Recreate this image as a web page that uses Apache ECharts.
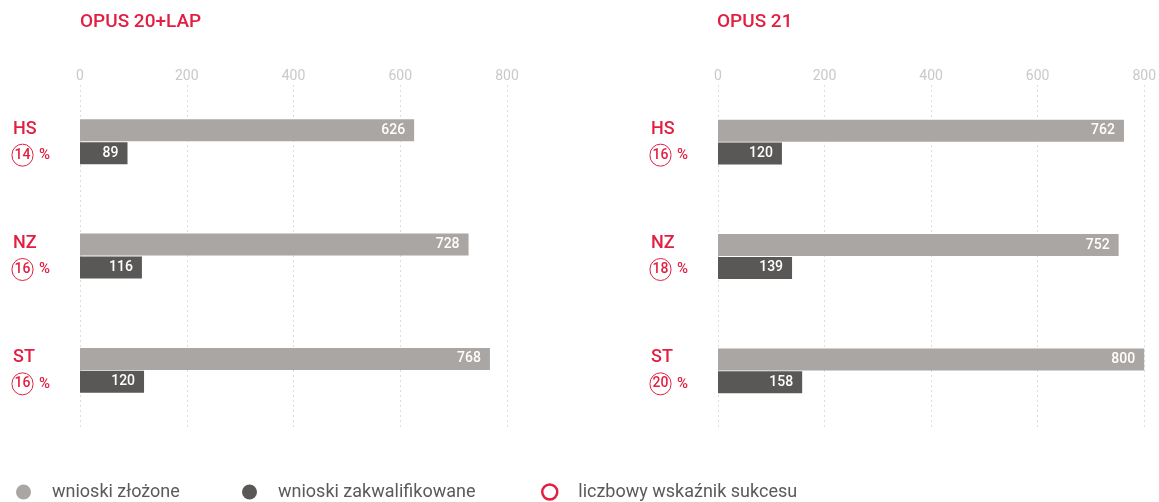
<!DOCTYPE html>
<html>
<head>
<meta charset="utf-8">
<script src="https://cdn.jsdelivr.net/npm/echarts@6/dist/echarts.min.js"></script>
<style>
html, body { margin: 0; padding: 0; background: #fff; }
#main { width: 1159px; height: 502px; }
</style>
</head>
<body>
<div id="main"></div>
<script>
var categories = ['HS', 'NZ', 'ST'];
var xTicks = [0, 200, 400, 600, 800];

var opus20Submitted = [626, 728, 768];
var opus20Qualified = [89, 116, 120];
var opus20Pct = [14, 16, 16];

var opus21Submitted = [762, 752, 800];
var opus21Qualified = [120, 139, 158];
var opus21Pct = [16, 18, 20];

var RED = '#e21f41';
var LIGHT = '#aaa6a3';
var DARK = '#595856';
var FONT = 'Roboto';

var chart = echarts.init(document.getElementById('main'));

function yAxisFor(gridIndex, pct) {
    return {
        type: 'category',
        gridIndex: gridIndex,
        data: categories,
        inverse: true,
        axisLine: { show: false },
        axisTick: { show: false },
        axisLabel: {
            align: 'left',
            margin: 68,
            formatter: function (value, index) {
                return '{a|' + value + '}\n{c|' + pct[index] + '}{p|%}';
            },
            rich: {
                a: { fontFamily: FONT, fontSize: 18, fontWeight: 500, color: RED, lineHeight: 26, padding: [0, 0, 0, 1] },
                c: { fontFamily: FONT, fontSize: 14, fontWeight: 500, color: RED, width: 17, height: 18, lineHeight: 18,
                     padding: [2, 2, 2, 2], align: 'center', borderColor: RED, borderWidth: 1, borderRadius: 11 },
                p: { fontFamily: FONT, fontSize: 15, fontWeight: 500, color: RED, padding: [0, 0, 0, 6], lineHeight: 26 }
            }
        }
    };
}

function xAxisFor(gridIndex) {
    return {
        type: 'value',
        gridIndex: gridIndex,
        position: 'top',
        min: xTicks[0],
        max: xTicks[xTicks.length - 1],
        interval: 200,
        axisLine: { show: false },
        axisTick: { show: false },
        axisLabel: { color: '#c9c9c9', fontFamily: FONT, fontSize: 14, margin: 2 },
        splitLine: { lineStyle: { color: '#dcdcdc', type: [2, 3], width: 1 } }
    };
}

function barLabel() {
    return {
        show: true,
        position: 'insideRight',
        distance: 9,
        color: '#fff',
        fontFamily: FONT,
        fontSize: 14,
        fontWeight: 500
    };
}

function legendAt(left, name, style) {
    return {
        left: left,
        top: 483,
        padding: 0,
        icon: 'circle',
        itemWidth: 15,
        itemHeight: 15,
        selectedMode: false,
        textStyle: { color: '#5a5a5a', fontFamily: FONT, fontSize: 18, padding: [0, 0, 0, 16] },
        data: [{ name: name, itemStyle: style }]
    };
}

var option = {
    backgroundColor: '#fff',
    animation: false,
    title: [
        { text: 'OPUS 20+LAP', left: 75, top: 8,
          textStyle: { color: RED, fontFamily: FONT, fontSize: 19, fontWeight: 500 } },
        { text: 'OPUS 21', left: 712, top: 8,
          textStyle: { color: RED, fontFamily: FONT, fontSize: 19, fontWeight: 500 } }
    ],
    legend: [
        legendAt(16, 'wnioski złożone', { color: LIGHT }),
        legendAt(242, 'wnioski zakwalifikowane', { color: DARK }),
        legendAt(541, 'liczbowy wskaźnik sukcesu', { color: '#fff', borderColor: RED, borderWidth: 2.5 })
    ],
    grid: [
        { left: 80, top: 85, width: 427, height: 343 },
        { left: 718, top: 85, width: 430, height: 343 }
    ],
    xAxis: [xAxisFor(0), xAxisFor(1)],
    yAxis: [yAxisFor(0, opus20Pct), yAxisFor(1, opus21Pct)],
    series: [
        { name: 'wnioski złożone', type: 'bar', xAxisIndex: 0, yAxisIndex: 0,
          data: opus20Submitted, barWidth: 22, barGap: '4%', itemStyle: { color: LIGHT }, label: barLabel() },
        { name: 'wnioski zakwalifikowane', type: 'bar', xAxisIndex: 0, yAxisIndex: 0,
          data: opus20Qualified, barWidth: 22, barGap: '4%', itemStyle: { color: DARK }, label: barLabel() },
        { name: 'wnioski złożone', type: 'bar', xAxisIndex: 1, yAxisIndex: 1,
          data: opus21Submitted, barWidth: 22, barGap: '4%', itemStyle: { color: LIGHT }, label: barLabel() },
        { name: 'wnioski zakwalifikowane', type: 'bar', xAxisIndex: 1, yAxisIndex: 1,
          data: opus21Qualified, barWidth: 22, barGap: '4%', itemStyle: { color: DARK }, label: barLabel() },
        { name: 'liczbowy wskaźnik sukcesu', type: 'bar', xAxisIndex: 0, yAxisIndex: 0,
          data: [], itemStyle: { color: '#fff', borderColor: RED, borderWidth: 2.5 } }
    ]
};

chart.setOption(option);
window.addEventListener('resize', function () {
    chart.resize();
});
</script>
</body>
</html>
